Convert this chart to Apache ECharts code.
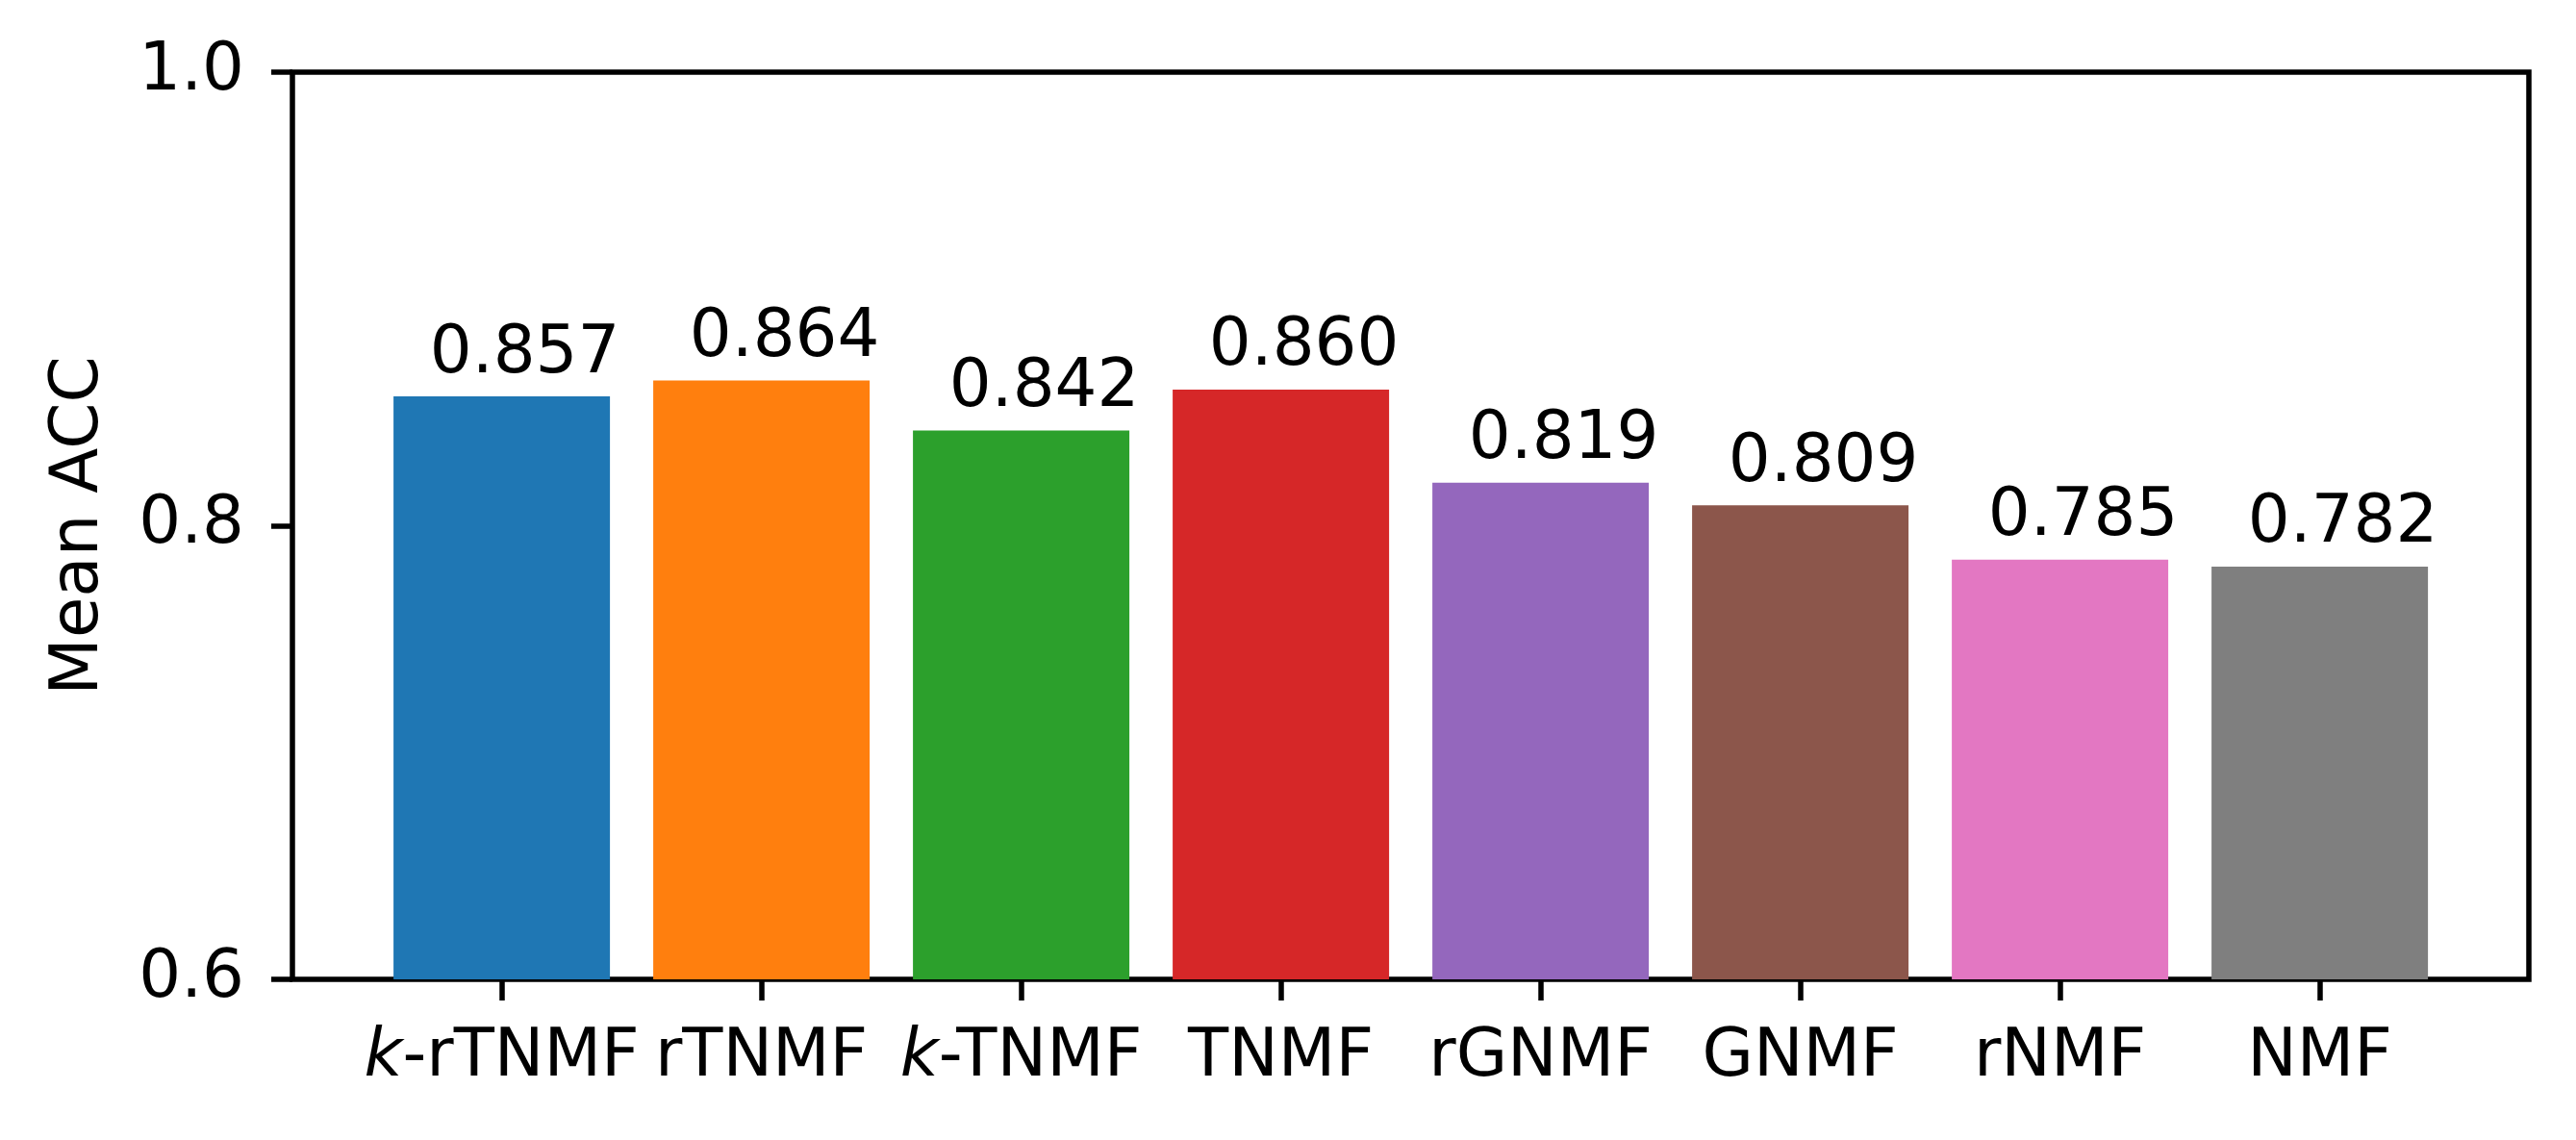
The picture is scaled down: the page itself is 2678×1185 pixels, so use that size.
<!DOCTYPE html>
<html lang="en">

<head>
	<meta charset="UTF-8">
	<title>Mean ACC</title>
	<script src="https://cdn.jsdelivr.net/npm/echarts@6/dist/echarts.min.js"></script>
	<style>
		body { margin: 0; background: #fff; }
	</style>
</head>

<body>
	<div id="chart" style="width: 2678px;height: 1185px;"></div>
</body>

<script>
	// 数据
	const methods = ['k-rTNMF', 'rTNMF', 'k-TNMF', 'TNMF', 'rGNMF', 'GNMF', 'rNMF', 'NMF']
	const meanAcc = [0.857, 0.864, 0.842, 0.860, 0.819, 0.809, 0.785, 0.782]
	const barColors = ['#1f77b4', '#ff7f0e', '#2ca02c', '#d62728', '#9467bd', '#8c564b', '#e377c2', '#7f7f7f']
	const yTicks = [0.6, 0.8, 1.0]

	let mcharts = echarts.init(document.getElementById('chart'))

	const font = 'DejaVu Sans'
	const fs = 69
	const lw = 5.5

	let option = {
		animation: false,
		textStyle: { fontFamily: font },
		grid: [
			// 外框
			{ left: 304, right: 49, top: 75, bottom: 167, show: true, borderColor: '#000', borderWidth: lw, backgroundColor: 'transparent' },
			// 柱子所在区域 (留出 matplotlib 的左右边距)
			{ left: 386.6, right: 131.4, top: 75, bottom: 167 }
		],
		xAxis: [
			{ gridIndex: 0, type: 'value', show: false, min: 0, max: 1 },
			{
				gridIndex: 1,
				type: 'category',
				data: methods,
				axisLine: { show: false },
				axisTick: { show: true, interval: 0, alignWithLabel: true, length: 22, lineStyle: { color: '#000', width: lw } },
				axisLabel: {
					interval: 0,
					hideOverlap: false,
					margin: 48,
					color: '#000',
					fontSize: fs,
					fontFamily: font,
					formatter: function (v) {
						// k 用斜体
						if (v.indexOf('k-') === 0) return '{i|k}{n|' + v.slice(1) + '}'
						return '{n|' + v + '}'
					},
					rich: {
						i: { fontStyle: 'italic', fontSize: fs, fontFamily: font, color: '#000' },
						n: { fontSize: fs, fontFamily: font, color: '#000' }
					}
				}
			}
		],
		yAxis: [
			{
				gridIndex: 0,
				type: 'value',
				min: yTicks[0],
				max: yTicks[yTicks.length - 1],
				interval: 0.2,
				splitLine: { show: false },
				axisLine: { show: false },
				axisTick: { show: true, length: 22, lineStyle: { color: '#000', width: lw } },
				axisLabel: {
					margin: 50,
					color: '#000',
					fontSize: fs,
					fontFamily: font,
					formatter: v => v.toFixed(1)
				},
				name: 'Mean ACC',
				nameLocation: 'middle',
				nameGap: 186,
				nameTextStyle: { color: '#000', fontSize: fs, fontFamily: font }
			},
			{ gridIndex: 1, type: 'value', show: false, min: yTicks[0], max: yTicks[yTicks.length - 1] }
		],
		series: [
			{
				type: 'bar',
				xAxisIndex: 1,
				yAxisIndex: 1,
				barWidth: 225,
				data: meanAcc.map((v, i) => ({ value: v, itemStyle: { color: barColors[i] } })),
				label: {
					show: true,
					position: 'top',
					distance: 9,
					offset: [24, 0],
					color: '#000',
					fontSize: fs,
					fontFamily: font,
					formatter: p => p.value.toFixed(3)
				}
			}
		]
	}

	mcharts.setOption(option)
</script>

</html>
